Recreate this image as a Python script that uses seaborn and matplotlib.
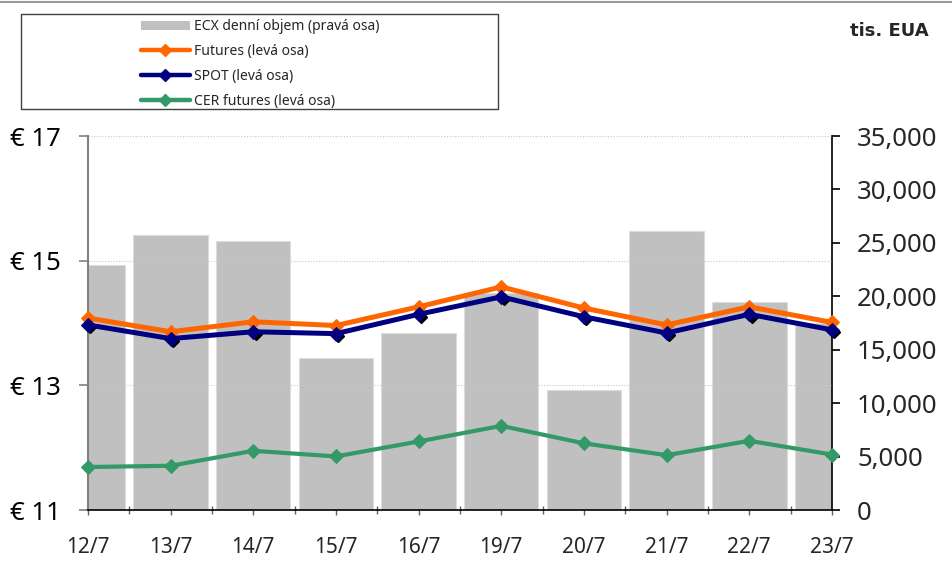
import numpy as np
import matplotlib
matplotlib.use('Agg')
import matplotlib.pyplot as plt
import matplotlib.transforms as mtransforms
from matplotlib.patches import Patch, Rectangle
from matplotlib.lines import Line2D
from matplotlib.ticker import FuncFormatter
import seaborn as sns

dates = ['12/7', '13/7', '14/7', '15/7', '16/7', '19/7', '20/7', '21/7', '22/7', '23/7']
ecx_volume = [22900, 25700, 25200, 14200, 16600, 20300, 11200, 26100, 19500, 17500]
futures = [14.08, 13.86, 14.02, 13.96, 14.26, 14.58, 14.24, 13.97, 14.26, 14.01]
spot = [13.97, 13.75, 13.86, 13.83, 14.14, 14.42, 14.10, 13.84, 14.14, 13.89]
cer_futures = [11.69, 11.71, 11.95, 11.86, 12.10, 12.35, 12.07, 11.88, 12.11, 11.89]

left_ticks = [11, 13, 15, 17]
right_ticks = [0, 5000, 10000, 15000, 20000, 25000, 30000, 35000]

sns.set_style('white')
plt.rcParams['font.family'] = ['Noto Sans', 'DejaVu Sans']

bar_color = '#C0C0C0'
c_fut = '#FF6600'
c_spot = '#000080'
c_cer = '#339966'

fig = plt.figure(figsize=(9.53, 5.64), dpi=100)
ax = fig.add_axes([0.0923, 0.0957, 0.7807, 0.6631])
ax2 = ax.twinx()

# bars on the right axis (drawn below)
sns.barplot(x=dates, y=ecx_volume, ax=ax2, color=bar_color, saturation=1,
            width=0.9, edgecolor='#dcdcdc', linewidth=0.8)
ax2.set_ylim(0, 35000)
ax2.set_yticks(right_ticks)
ax2.yaxis.set_major_formatter(FuncFormatter(lambda v, p: f'{int(v):,}'))
ax2.set_ylabel('')

# lines on the left axis, raised above bars
ax.set_zorder(ax2.get_zorder() + 1)
ax.patch.set_visible(False)
xpos = np.arange(len(dates))

shadow = ax.transData + mtransforms.ScaledTranslation(1.6 / 72, -1.6 / 72, fig.dpi_scale_trans)
ax.plot(xpos, spot, linestyle='none', marker='D', markersize=6, color='black',
        transform=shadow, clip_on=False, zorder=2)

for vals, col, lw in [(cer_futures, c_cer, 3.0), (futures, c_fut, 3.6), (spot, c_spot, 3.6)]:
    sns.lineplot(x=xpos, y=vals, ax=ax, color=col, linewidth=lw, marker='D',
                 markersize=7, markeredgecolor=col, sort=False, clip_on=False, zorder=3)

ax.set_xlim(0, len(dates) - 1)
ax2.set_xlim(0, len(dates) - 1)
ax.set_ylim(11, 17)
ax.set_yticks(left_ticks)
ax.set_yticklabels([f'€ {t}' for t in left_ticks])
ax.set_xticks(xpos)
ax.set_xticklabels(dates)
ax.set_xticks(xpos[:-1] + 0.5, minor=True)
ax2.tick_params(axis='x', which='both', bottom=False, labelbottom=False)

ax.yaxis.grid(True, color='#c8c8c8', linestyle=(0, (1, 1.5)), linewidth=0.8)
ax.xaxis.grid(False)
ax2.grid(False)

for s in ['top', 'right']:
    ax.spines[s].set_visible(False)
for s in ['top', 'left', 'bottom']:
    ax2.spines[s].set_visible(False)
ax.spines['left'].set_color('#808080')
ax.spines['left'].set_linewidth(1.5)
ax.spines['bottom'].set_color('black')
ax.spines['bottom'].set_linewidth(1.2)
ax2.spines['right'].set_color('black')
ax2.spines['right'].set_linewidth(1.2)

ax.tick_params(axis='y', which='major', left=True, direction='out', length=6.5,
               width=1.2, color='#808080', labelsize=18.5, pad=13, labelcolor='black')
ax.tick_params(axis='x', which='major', bottom=True, direction='out', length=3.6,
               width=1, color='#606060', labelsize=15, pad=16)
ax.tick_params(axis='x', which='minor', bottom=True, direction='inout', length=6,
               width=1, color='#606060')
ax2.tick_params(axis='y', right=True, direction='out', length=6, width=1.2,
                color='black', labelsize=18.5, pad=12)

# legend in its own box
fig.add_artist(Rectangle((0.022, 0.8067), 0.5005, 0.1684, transform=fig.transFigure,
                         fill=False, edgecolor='#404040', linewidth=1))
handles = [
    Patch(facecolor=bar_color, edgecolor='none'),
    Line2D([], [], color=c_fut, linewidth=3.2, marker='D', markersize=6),
    Line2D([], [], color=c_spot, linewidth=3.2, marker='D', markersize=6),
    Line2D([], [], color=c_cer, linewidth=3.2, marker='D', markersize=6),
]
labels = ['ECX denní objem (pravá osa)', 'Futures (levá osa)', 'SPOT (levá osa)',
          'CER futures (levá osa)']
fig.legend(handles, labels, loc='upper left', bbox_to_anchor=(141 / 953, (564 - 19) / 564),
           bbox_transform=fig.transFigure, frameon=False, borderpad=0, borderaxespad=0,
           handlelength=3.5, handleheight=0.6, handletextpad=0.35, labelspacing=0.72,
           fontsize=10)

fig.text(929 / 953, 1 - 31 / 564, 'tis. EUA', ha='right', va='center',
         fontsize=13, fontweight='bold', family='DejaVu Sans')
fig.add_artist(Line2D([0, 1], [1 - 2 / 564, 1 - 2 / 564], transform=fig.transFigure,
                      color='#999999', linewidth=1.5))

fig.savefig('out.png', dpi=100)
